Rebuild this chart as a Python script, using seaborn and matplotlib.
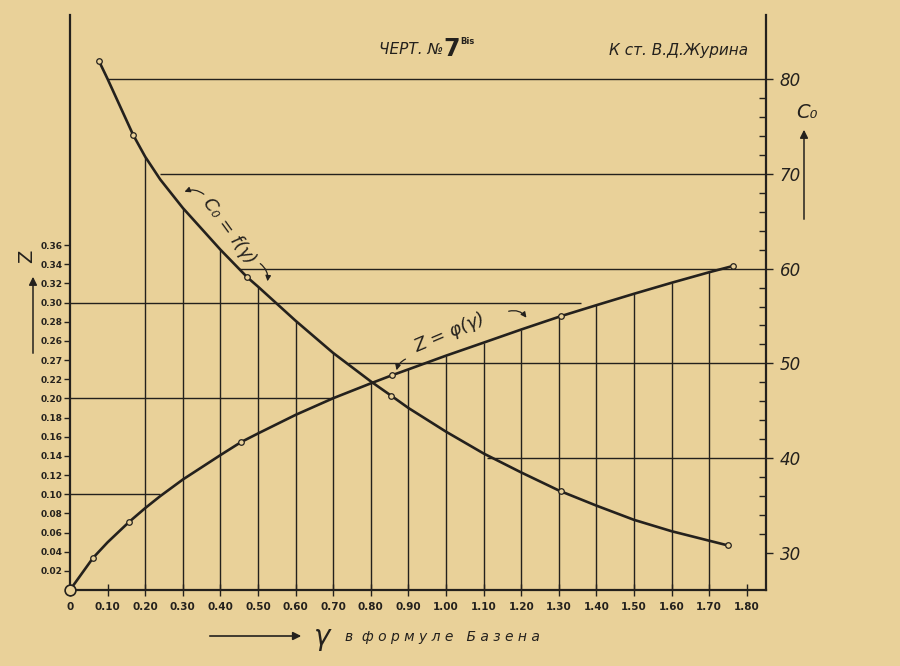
import numpy as np
import matplotlib
matplotlib.use("Agg")
import matplotlib.pyplot as plt
import seaborn as sns

# C0 = f(gamma) (right axis)
c0_gamma = [0.077, 0.10, 0.168, 0.20, 0.24, 0.30, 0.40, 0.471, 0.50, 0.60, 0.70, 0.80,
            0.854, 0.90, 1.00, 1.10, 1.20, 1.30, 1.306, 1.40, 1.50, 1.60, 1.70, 1.75]
c0_vals = [81.9, 80.0, 74.1, 71.8, 69.4, 66.4, 62.0, 59.1, 58.1, 54.5, 51.1, 48.1,
           46.6, 45.3, 42.8, 40.5, 38.5, 36.6, 36.5, 35.0, 33.5, 32.3, 31.3, 30.8]
# measured points (small circles) on the C0 curve
c0_pts_gamma = [0.077, 0.168, 0.471, 0.854, 1.306, 1.75]
c0_pts_vals = [81.9, 74.1, 59.1, 46.6, 36.5, 30.8]

# Z = phi(gamma) (left axis)
z_gamma = [0.0, 0.061, 0.10, 0.157, 0.20, 0.24, 0.30, 0.40, 0.455, 0.50, 0.60, 0.70, 0.80,
           0.856, 0.90, 1.00, 1.10, 1.20, 1.30, 1.306, 1.40, 1.50, 1.60, 1.70, 1.763]
z_vals = [0.0, 0.0334, 0.0498, 0.071, 0.0855, 0.098, 0.1153, 0.1408, 0.1544, 0.1634, 0.1828,
          0.2002, 0.2157, 0.2241, 0.2303, 0.2446, 0.2582, 0.2719, 0.2851, 0.2859, 0.2973,
          0.3092, 0.3207, 0.3317, 0.3382]
z_pts_gamma = [0.061, 0.157, 0.455, 0.856, 1.306, 1.763]
z_pts_vals = [0.0334, 0.071, 0.1544, 0.2241, 0.2859, 0.3382]

# horizontal guide lines: level and gamma where they start / end
z_guides = [0.10, 0.20, 0.30]
z_guide_end = [0.24, 0.70, 1.36]
c0_guides = [80, 70, 60, 50, 40]
c0_guide_start = [0.10, 0.24, 0.45, 0.74, 1.11]

# vertical guide lines at the gamma grid, up to the upper curve
vert_c0 = [0.20, 0.30, 0.40, 0.50, 0.60, 0.70, 0.80]
vert_z = [0.90, 1.00, 1.10, 1.20, 1.30, 1.40, 1.50, 1.60, 1.70]

x_ticks = [0, 0.10, 0.20, 0.30, 0.40, 0.50, 0.60, 0.70, 0.80, 0.90, 1.00,
           1.10, 1.20, 1.30, 1.40, 1.50, 1.60, 1.70, 1.80]
x_labels = ["0", "0.10", "0.20", "0.30", "0.40", "0.50", "0.60", "0.70", "0.80", "0.90", "1.00",
            "1.10", "1.20", "1.30", "1.40", "1.50", "1.60", "1.70", "1.80"]
z_ticks = [0.02, 0.04, 0.06, 0.08, 0.10, 0.12, 0.14, 0.16, 0.18, 0.20, 0.22,
           0.24, 0.26, 0.28, 0.30, 0.32, 0.34, 0.36]
z_labels = ["0.02", "0.04", "0.06", "0.08", "0.10", "0.12", "0.14", "0.16", "0.18", "0.20", "0.22",
            "0.27", "0.26", "0.28", "0.30", "0.32", "0.34", "0.36"]
c0_ticks = [30, 40, 50, 60, 70, 80]

paper = "#E9D199"
ink = "#24211d"

sns.set_theme(style="ticks")
plt.rcParams["font.family"] = ["DejaVu Sans"]
plt.rcParams["axes.edgecolor"] = ink
plt.rcParams["text.color"] = ink
plt.rcParams["xtick.color"] = ink
plt.rcParams["ytick.color"] = ink

fig = plt.figure(figsize=(9, 6.66), dpi=100, facecolor=paper)
ax = fig.add_axes([70 / 900, 1 - 590 / 666, 696 / 900, 575 / 666])
ax.set_facecolor(paper)
ax2 = ax.twinx()

xmax = 696 / 376
c0_bottom = 26.1
ax.set_xlim(0, xmax)
ax.set_ylim(0, 575 / 958)
ax2.set_ylim(c0_bottom, 86.75)

# guide lines
ax.hlines(z_guides, 0, z_guide_end, color=ink, lw=1.0)
ax2.hlines(c0_guides, c0_guide_start, xmax, color=ink, lw=1.0)
c0_lookup = dict(zip(c0_gamma, c0_vals))
z_lookup = dict(zip(z_gamma, z_vals))
ax2.vlines(vert_c0, c0_bottom, [c0_lookup[g] for g in vert_c0], color=ink, lw=1.0)
ax.vlines(vert_z, 0, [z_lookup[g] for g in vert_z], color=ink, lw=1.0)

# curves
sns.lineplot(x=z_gamma, y=z_vals, ax=ax, color=ink, lw=1.9, sort=False, estimator=None)
sns.lineplot(x=c0_gamma, y=c0_vals, ax=ax2, color=ink, lw=1.9, sort=False, estimator=None)
sns.scatterplot(x=z_pts_gamma, y=z_pts_vals, ax=ax, marker="o", s=16,
                facecolor=paper, edgecolor=ink, linewidth=0.9, zorder=5, clip_on=False)
sns.scatterplot(x=c0_pts_gamma, y=c0_pts_vals, ax=ax2, marker="o", s=16,
                facecolor=paper, edgecolor=ink, linewidth=0.9, zorder=5, clip_on=False)
sns.scatterplot(x=[0], y=[0], ax=ax, marker="o", s=60, facecolor=paper,
                edgecolor=ink, linewidth=1.2, zorder=6, clip_on=False)

# axes styling
ax.spines["top"].set_visible(False)
ax.spines["right"].set_visible(False)
ax2.spines["top"].set_visible(False)
ax2.spines["left"].set_visible(False)
ax2.spines["bottom"].set_visible(False)
for sp in ["left", "bottom"]:
    ax.spines[sp].set_linewidth(1.6)
ax2.spines["right"].set_linewidth(1.6)

ax.set_xticks(x_ticks)
ax.set_xticklabels(x_labels, fontsize=7.5, fontweight="bold")
ax.tick_params(axis="x", direction="inout", length=9, width=1.0, pad=4)
ax.set_yticks(z_ticks)
ax.set_yticklabels(z_labels, fontsize=6.5, fontweight="bold")
ax.tick_params(axis="y", direction="out", length=4, width=1.0, pad=1.5)

ax2.set_yticks(c0_ticks)
ax2.set_yticklabels([str(t) for t in c0_ticks], fontsize=12, style="italic")
ax2.set_yticks(np.arange(32, 80, 2), minor=True)
ax2.tick_params(axis="y", which="major", direction="out", length=5, width=1.0, pad=5)
ax2.tick_params(axis="y", which="minor", direction="in", length=5, width=1.0)
ax.set_xlabel("")
ax.set_ylabel("")
ax2.set_ylabel("")


def fp(x, y):
    return (x / 900, 1 - y / 666)


# curve labels
fig.text(*fp(229, 231), "C₀ = f(γ)", rotation=-54, fontsize=13, style="italic",
         ha="center", va="center")
fig.text(*fp(450, 333), "Z = φ(γ)", rotation=23, fontsize=13, style="italic",
         ha="center", va="center")
arrow = dict(arrowstyle="-|>", color=ink, lw=0.9, mutation_scale=8)
ax.annotate("", xy=fp(182, 193), xytext=fp(206, 196), xycoords="figure fraction",
            arrowprops=dict(connectionstyle="arc3,rad=0.35", **arrow))
ax.annotate("", xy=fp(267, 284), xytext=fp(258, 262), xycoords="figure fraction",
            arrowprops=dict(connectionstyle="arc3,rad=-0.35", **arrow))
ax.annotate("", xy=fp(396, 373), xytext=fp(408, 358), xycoords="figure fraction",
            arrowprops=dict(connectionstyle="arc3,rad=0.3", **arrow))
ax.annotate("", xy=fp(528, 320), xytext=fp(506, 312), xycoords="figure fraction",
            arrowprops=dict(connectionstyle="arc3,rad=-0.4", **arrow))

# axis captions
fig.text(*fp(27, 256), "Z", fontsize=14, rotation=90, ha="center", va="center")
ax.annotate("", xy=fp(33, 274), xytext=fp(33, 356), xycoords="figure fraction",
            arrowprops=dict(arrowstyle="-|>", color=ink, lw=1.1, mutation_scale=12))
fig.text(*fp(807, 113), "C₀", fontsize=14, style="italic", ha="center", va="center")
ax.annotate("", xy=fp(804, 127), xytext=fp(804, 222), xycoords="figure fraction",
            arrowprops=dict(arrowstyle="-|>", color=ink, lw=1.1, mutation_scale=12))
ax.annotate("", xy=fp(304, 636), xytext=fp(207, 636), xycoords="figure fraction",
            arrowprops=dict(arrowstyle="-|>", color=ink, lw=1.2, mutation_scale=12))
fig.text(*fp(322, 637), "γ", fontsize=20, style="italic", ha="center", va="center")
fig.text(*fp(345, 637), "в  ф о р м у л е   Б а з е н а", fontsize=10, style="italic",
         ha="left", va="center")

# header
fig.text(*fp(411, 50), "ЧЕРТ. №", fontsize=11, style="italic", ha="center", va="center")
fig.text(*fp(452, 49), "7", fontsize=17, fontweight="bold", ha="center", va="center")
fig.text(*fp(467, 42), "Bis", fontsize=6, fontweight="bold", ha="center", va="center")
fig.text(*fp(679, 51), "К ст. В.Д.Журина", fontsize=11, style="italic", ha="center", va="center")

fig.savefig("out.png", dpi=100, facecolor=paper)
